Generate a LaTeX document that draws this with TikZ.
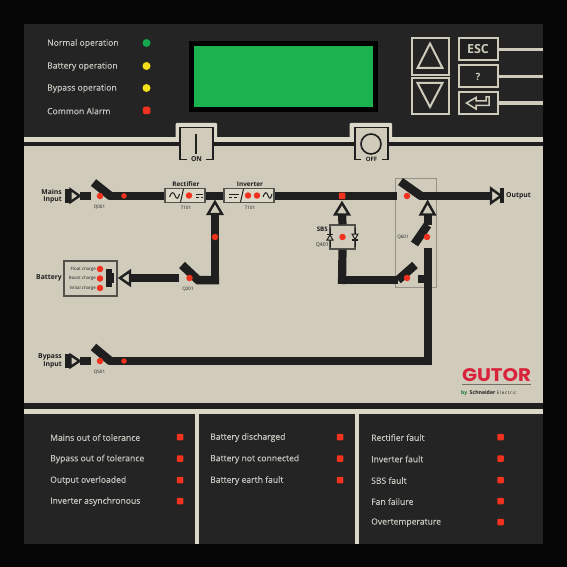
\documentclass[tikz,border=0pt]{standalone}
\usepackage{fontspec}
\usepackage{graphicx}
\setmainfont{Open Sans}
\definecolor{blk}{HTML}{060606}
\definecolor{pnl}{HTML}{232423}
\definecolor{bge}{HTML}{D0CBBB}
\definecolor{strip}{HTML}{DCD8C8}
\definecolor{btn}{HTML}{CFCBBB}
\definecolor{lcd}{HTML}{1AB350}
\definecolor{ledr}{HTML}{F0321E}
\definecolor{ledy}{HTML}{F4E01A}
\definecolor{ledg}{HTML}{14A84C}
\definecolor{txt}{HTML}{C8C8C1}
\definecolor{ink}{HTML}{1E1F1E}
\definecolor{logo}{HTML}{D9233C}
\newfontfamily\labfont[FakeBold=0.2]{Open Sans}
\tikzset{
  x=1pt,y=-1pt,
  fnt/.style={font=\fontsize{#1}{#1}\selectfont},
  lab/.style={font=\labfont\fontsize{8.6}{8.6}\selectfont,text=txt,anchor=west,inner sep=0pt,yshift=-0.5pt},
  dsquare/.style={fill=ledr,minimum size=6.5pt,inner sep=0pt,rounded corners=0.8pt},
  dround/.style={circle,fill=#1,minimum size=8pt,inner sep=0pt},
  ddot/.style={circle,fill=ledr,minimum size=6.5pt,inner sep=0pt},
  sdot/.style={circle,fill=ledr,minimum size=5.5pt,inner sep=0pt},
  bus/.style={draw=ink,line width=8.2pt},
  blade/.style={draw=ink,line width=8.5pt},
  tri/.style={draw=ink,fill=bge,line width=2.4pt,line join=miter},
  btnbox/.style={draw=btn,line width=2pt,fill=pnl},
  btnline/.style={draw=btn,line width=3.5pt},
  frameline/.style={draw=ink,line width=1.8pt},
  diab/.style={text=ink,inner sep=0pt,font=\bfseries\fontsize{6.8}{7.4}\selectfont,align=right},
  qlab/.style={fnt=4.6,text=ink,inner sep=0pt},
  chg/.style={fnt=4.4,text=ink,inner sep=0pt,anchor=east},
  ebox/.style={draw=black!60!bge,line width=1.2pt,fill=strip},
}
\begin{document}
\begin{tikzpicture}
\useasboundingbox (0,0) rectangle (567,567);
\fill[blk] (0,0) rectangle (567,567);
\fill[pnl] (24,24) rectangle (543,544);
% centre strip
\fill[strip] (24,137) rectangle (543,142);
\fill[ink] (24,142) rectangle (543,145.5);
\fill[bge] (24,145.5) rectangle (543,403);
\fill[ink] (24,403) rectangle (543,409);
\fill[strip] (24,409) rectangle (543,413.5);
\fill[strip] (194.5,413) rectangle (198.5,544);
\fill[strip] (354.5,413) rectangle (358.5,544);

% status LEDs
\foreach \n/\y/\t/\c in {a/43/Normal operation/ledg,b/66/Battery operation/ledy,c/88/Bypass operation/ledy}{
  \node[lab] (st\n) at (47,\y) {\t};
  \node[dround=\c] (stl\n) at (146.5,\y) {};
}
\node[lab] (std) at (47,110.5) {Common Alarm};
\node[dsquare,minimum size=7.5pt,rounded corners=1.5pt] (stld) at (146.5,110.5) {};

% LCD
\fill[black] (189,41) rectangle (378,112);
\node[fill=lcd,minimum width=179pt,minimum height=60.5pt,inner sep=0pt] (lcdscreen) at (283.5,76.75) {};

% keys
\draw[btnbox] (411.5,38.5) rectangle (449,75);
\draw[btnbox] (411.5,78) rectangle (449,114.5);
\draw[btn,line width=2pt,line join=miter] (430,43.5) -- (442.5,68) -- (417.5,68) -- cycle;
\draw[btn,line width=2pt,line join=miter] (430,107) -- (442.5,83) -- (417.5,83) -- cycle;
\node[btnbox,minimum width=39pt,minimum height=22pt,inner sep=0pt,fill=ink,text=btn,font=\bfseries\fontsize{12.5}{12.5}\selectfont] (esc) at (478,49.5) {ESC};
\node[btnbox,minimum width=39pt,minimum height=22pt,inner sep=0pt,text=btn,font=\bfseries\fontsize{10}{10}\selectfont] (help) at (478,76.5) {?};
\node[btnbox,minimum width=39pt,minimum height=22pt,inner sep=0pt] (enter) at (478,103) {};
\draw[btn,line width=1.5pt,line join=miter] (466.5,103) -- (476,97.5) -- (476,101) -- (486,101) -- (486,97) -- (489,97) -- (489,105.5) -- (476,105.5) -- (476,109) -- cycle;
\coordinate (escr) at (543,49.5);
\coordinate (helpr) at (543,76.5);
\coordinate (enterr) at (543,103);
\draw[btnline] (esc.east) -- (escr);
\draw[btnline] (help.east) -- (helpr);
\draw[btnline] (enter.east) -- (enterr);

% ON button
\fill[strip,rounded corners=1pt] (175.5,123) rectangle (217,140);
\fill[bge] (180,127.5) rectangle (213,159);
\draw[frameline] (187,159.5) -- (180,159.5) -- (180,127.5) -- (213,127.5) -- (213,159.5) -- (206,159.5);
\draw[draw=ink,line width=1.6pt] (196,134) -- (196,154);
\node[text=ink,inner sep=0pt,font=\bfseries\fontsize{6.8}{6.8}\selectfont] (onlab) at (196.5,159.5) {ON};
% OFF button
\fill[strip,rounded corners=1pt] (349.5,123) rectangle (392,140);
\fill[bge] (355,127.5) rectangle (388,159);
\draw[frameline] (361,159.5) -- (355,159.5) -- (355,127.5) -- (388,127.5) -- (388,159.5) -- (382,159.5);
\node[circle,draw=ink,line width=1.6pt,minimum size=20pt,inner sep=0pt] (offc) at (371,144) {};
\node[text=ink,inner sep=0pt,font=\bfseries\fontsize{6}{6}\selectfont] (offlab) at (371.5,159.5) {OFF};

% grey switch frame
\draw[draw=black!28!bge,line width=1pt] (395.5,178) rectangle (436.5,287);

% coordinates
\coordinate (ma) at (80,195.9);
\coordinate (mb) at (90.7,195.9);
\coordinate (mc) at (93.5,182.5);
\coordinate (md) at (111,196.5);
\coordinate (me) at (109,195.9);
\coordinate (out) at (490,195.9);
\coordinate (sw1) at (397,195.9);
\coordinate (sw1a) at (400.5,181.5);
\coordinate (sw1b) at (421,196);
\coordinate (sw1c) at (419,195.9);
\coordinate (by1) at (80,361);
\coordinate (by2) at (90.7,361);
\coordinate (by3) at (93.5,347);
\coordinate (by4) at (111,361.6);
\coordinate (by5) at (109,361);
\coordinate (by6) at (427.6,361);
\coordinate (by7) at (427.6,248);
\coordinate (st1) at (418,279);
\coordinate (st2) at (428,279);
\coordinate (ba1) at (215,213);
\coordinate (ba2) at (219,280);
\coordinate (ba3) at (198,280);
\coordinate (ba4) at (182,265);
\coordinate (ba5) at (179,278);
\coordinate (ba6) at (129,278);
\coordinate (sb1) at (342,213);
\coordinate (sb2) at (342,284);
\coordinate (sb3) at (342,280);
\coordinate (sb4) at (398,280);
\coordinate (sb5) at (415,265);
\coordinate (up1) at (427.6,213);
\coordinate (up2) at (427.6,225);
\coordinate (up3) at (414.5,244);

% boxes
\node[ebox,minimum width=40pt,minimum height=14.5pt,inner sep=0pt] (rect) at (185,195.5) {};
\node[ebox,minimum width=50pt,minimum height=14.5pt,inner sep=0pt] (inv) at (249,195.5) {};
\node[ebox,minimum width=25pt,minimum height=24pt,inner sep=0pt,fill=bge] (sbs) at (342.5,237) {};
\node[ebox,minimum width=53pt,minimum height=35pt,inner sep=0pt,fill=bge,line width=1.4pt] (batt) at (90.5,278.5) {};

% buses
\draw[bus] (ma) -- (mb);
\draw[blade] (mc) -- (md);
\draw[bus] (me) -- (rect.west |- me);
\draw[bus] (rect.east |- me) -- (inv.west |- me);
\draw[bus] (inv.east |- me) -- (sw1);
\draw[blade] (sw1a) -- (sw1b);
\draw[bus] (sw1c) -- (out);
\draw[bus] (by1) -- (by2);
\draw[blade] (by3) -- (by4);
\draw[bus] (by5) -- (by6);
\draw[bus] (427.6,365.1) -- (by7);
\draw[bus] (st1) -- (st2);
\draw[bus] (ba1) -- (215,284);
\draw[blade] (ba2) -- (ba3) -- (ba4);
\draw[bus] (ba5) -- (ba6);
\draw[bus] (sb1) -- (sbs.north);
\draw[bus] (sbs.south) -- (sb2);
\draw[bus] (sb3) -- (sb4);
\draw[blade] (sb4) -- (sb5);
\draw[bus] (up1) -- (up2);
\draw[blade] (up2) -- (up3);

% arrows
\node[fill=ink,minimum width=5pt,minimum height=14pt,inner sep=0pt] (mainstem) at (67.5,195.9) {};
\draw[tri] (70.5,189.5) -- (79.5,195.9) -- (70.5,202) -- cycle;
\node[fill=ink,minimum width=5pt,minimum height=14pt,inner sep=0pt] (bystem) at (67.5,361) {};
\draw[tri] (70.5,355) -- (79.5,361) -- (70.5,367) -- cycle;
\node[fill=ink,minimum width=4pt,minimum height=15pt,inner sep=0pt] (outstem) at (501.5,195.9) {};
\draw[tri] (491,188.5) -- (501,195.9) -- (491,203) -- cycle;
\draw[tri] (215,202) -- (222,214) -- (208,214) -- cycle;
\draw[tri] (342,203) -- (349,214.5) -- (335,214.5) -- cycle;
\draw[tri] (427.6,202) -- (434.6,214.5) -- (420.6,214.5) -- cycle;
\draw[tri] (120,278) -- (130,271) -- (130,285) -- cycle;

% box contents
\draw[ink,line width=1pt] (169.5,197) .. controls (171.5,191.5) and (173.5,191.5) .. (175,195.5) .. controls (176.5,199.5) and (178,199.5) .. (179.5,194);
\draw[ink,line width=1pt] (180.5,202) -- (183.5,189);
\draw[ink,line width=1.1pt] (196,194.5) -- (203,194.5);
\draw[ink,line width=1pt,densely dashed] (196,197) -- (203,197);
\node[ddot] (rl1) at (189,195.5) {};
\draw[ink,line width=1.1pt] (229,194.5) -- (239,194.5);
\draw[ink,line width=1pt,densely dashed] (229,197) -- (239,197);
\draw[ink,line width=1pt] (240.5,202) -- (243.5,189);
\node[ddot] (il1) at (248,195.5) {};
\node[ddot] (il2) at (257,195.5) {};
\draw[ink,line width=1pt] (263,197) .. controls (265,191.5) and (266.5,191.5) .. (268,195.5) .. controls (269.5,199.5) and (270.5,199.5) .. (272,194);

\draw[ink,line width=5.5pt] (109,269) -- (109,287);
\draw[ink,line width=1.5pt] (113,273) -- (113,283);

% diodes
\draw[ink,line width=1pt] (330,228) -- (330,247);
\draw[ink,line width=1pt] (355,228) -- (355,247);
\draw[ink,fill=bge,line width=1pt] (327,240) -- (333,240) -- (330,235) -- cycle;
\draw[ink,line width=1.2pt] (327,234.5) -- (333,234.5);
\draw[ink,fill=bge,line width=1pt] (352,234) -- (358,234) -- (355,239.5) -- cycle;
\draw[ink,line width=1.2pt] (352,240) -- (358,240);

% dots
\node[ddot] (d1) at (100,196) {};
\node[sdot] (d2) at (124,195.9) {};
\node[ddot] (d3) at (215,237) {};
\node[ddot] (d4) at (189.5,278) {};
\node[dsquare] (d5) at (342,195.9) {};
\node[ddot] (d6) at (407,196) {};
\node[ddot] (d7) at (342.5,237) {};
\node[ddot] (d8) at (427,237) {};
\node[ddot] (d9) at (407,278) {};
\node[ddot] (d10) at (100,361) {};
\node[sdot] (d11) at (124,361) {};
\node[ddot] (d12) at (100,269) {};
\node[ddot] (d13) at (100,278.5) {};
\node[ddot] (d14) at (100,288) {};

% labels in diagram
\node[diab,anchor=east] (lmains) at (62,196) {Mains\\Input};
\node[diab,anchor=east] (lbyp) at (62,361) {Bypass\\Input};
\node[diab,anchor=east] (lbat) at (62,278) {Battery};
\node[diab,anchor=west] (lout) at (506,195.5) {Output};
\node[diab,font=\bfseries\fontsize{6.4}{6.4}\selectfont] (lrect) at (186,184.5) {Rectifier};
\node[diab,font=\bfseries\fontsize{6.4}{6.4}\selectfont] (linv) at (250,184.5) {Inverter};
\node[qlab] (lt1) at (186,207.5) {T101};
\node[qlab] (lt2) at (250,207.5) {T101};
\node[qlab] (lq1) at (99.5,207.5) {Q001};
\node[qlab] (lq2) at (188,289) {Q201};
\node[qlab] (lq5) at (99.5,372.5) {Q501};
\node[qlab] (lq6) at (403,237.5) {Q601};
\node[diab,anchor=east,font=\bfseries\fontsize{6.2}{6.2}\selectfont] (lsbs) at (328,229) {SBS};
\node[qlab,anchor=east,font=\fontsize{5.2}{5.2}\selectfont] (lq4) at (329,245) {Q401};
\node[chg] (c1) at (96,269) {Float charge};
\node[chg] (c2) at (96,278.5) {Boost charge};
\node[chg] (c3) at (96,288) {Initial charge};

% logo
\node[text=logo,inner sep=0pt] (gutor) at (496.5,375) {\resizebox{69pt}{13pt}{\fontspec{Poppins}\bfseries GUTOR}};
\draw[black!45!bge,line width=0.8pt] (462,384.5) -- (531,384.5);
\node[inner sep=0pt,anchor=west,text=ink] (sch) at (461,393) {\textcolor{ledg!70!black}{\fontsize{5}{5}\selectfont\bfseries by} \fontsize{5.2}{5.2}\selectfont\bfseries Schneider \fontsize{4.6}{5}\mdseries\addfontfeatures{LetterSpace=14}Electric};

% alarm columns
\foreach \n/\y/\t in {a/437/Mains out of tolerance,b/458.5/Bypass out of tolerance,c/480/Output overloaded,d/501/Inverter asynchronous}{
  \node[lab] (ca\n) at (50,\y) {\t};
  \node[dsquare] (cal\n) at (180,\y) {};
}
\foreach \n/\y/\t in {a/437/Battery discharged,b/458.5/Battery not connected,c/480/Battery earth fault}{
  \node[lab] (cb\n) at (210,\y) {\t};
  \node[dsquare] (cbl\n) at (340,\y) {};
}
\foreach \n/\y/\t in {a/437/Rectifier fault,b/458.5/Inverter fault,c/480/SBS fault,d/501/Fan failure,e/522/Overtemperature}{
  \node[lab] (cc\n) at (371,\y) {\t};
  \node[dsquare] (ccl\n) at (500.5,\y) {};
}
\end{tikzpicture}
\end{document}
